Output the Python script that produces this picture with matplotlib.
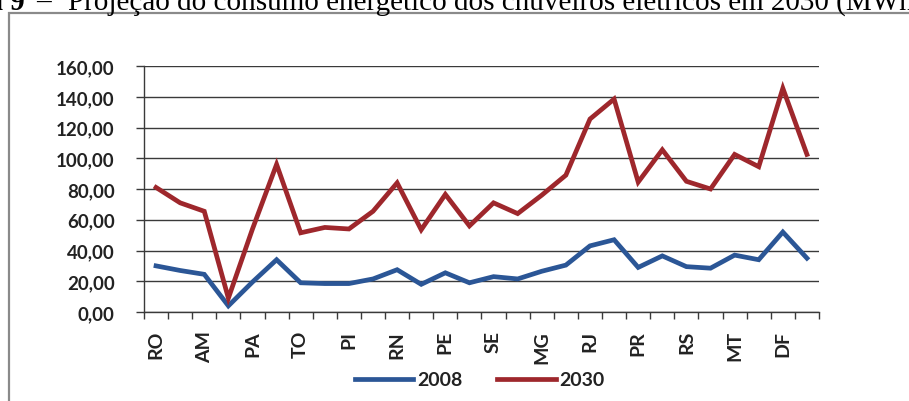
import numpy as np
import matplotlib
matplotlib.use('Agg')
from matplotlib import pyplot as plt
from matplotlib.patches import Rectangle

# states (IBGE order) + Brazil
states = ['RO', 'AC', 'AM', 'RR', 'PA', 'AP', 'TO', 'MA', 'PI', 'CE', 'RN', 'PB',
          'PE', 'AL', 'SE', 'BA', 'MG', 'ES', 'RJ', 'SP', 'PR', 'SC', 'RS', 'MS',
          'MT', 'GO', 'DF', 'BR']
v2008 = [30, 27, 24.5, 4, 19.5, 34, 19, 18.5, 18.5, 21.5, 27.5, 18, 25.5, 19,
         23, 21.5, 26.5, 30.5, 43, 47, 29, 36.5, 29.5, 28.5, 37, 34, 52, 35]
v2030 = [81, 71, 65.5, 9, 54, 96, 51.5, 55, 54, 65.5, 84, 53.5, 76.5, 56,
         71, 64, 76, 89, 125.5, 138.5, 84.5, 105.5, 85, 80, 102.5, 94.5, 145.5, 102.5]
yticks = [0, 20, 40, 60, 80, 100, 120, 140, 160]

W, H = 909, 402
fig = plt.figure(figsize=(W / 100, H / 100), dpi=100)
ax = fig.add_axes([144 / W, 1 - 313 / H, (819 - 144) / W, (313 - 67) / H])

x = np.arange(len(states)) + 0.5
ax.plot(x, v2008, color='#2b5696', lw=3.4, label='2008', solid_joinstyle='miter')
ax.plot(x, v2030, color='#9e272c', lw=3.4, label='2030', solid_joinstyle='miter')

ax.set_xlim(0, len(states))
ax.set_ylim(0, 160)
ax.set_yticks(yticks)
ax.set_yticklabels([f'{v:.2f}'.replace('.', ',') for v in yticks],
                   fontfamily='Lato', fontweight='bold', fontsize=13.5, color='#222222')
ax.yaxis.grid(True, color='#3a3a3a', lw=1.0)
ax.set_axisbelow(True)

ax.set_xticks(np.arange(len(states) + 1))
ax.set_xticklabels([])
ax.set_xticks(x[::2], minor=True)
ax.set_xticklabels(states[::2], minor=True, rotation=90, fontfamily='Lato',
                   fontweight='bold', fontsize=14, color='#222222')
ax.tick_params(axis='x', which='minor', length=0, pad=13)
ax.tick_params(axis='x', which='major', length=5, width=1.0, color='#3a3a3a')
ax.tick_params(axis='y', length=6, width=1.0, color='#3a3a3a', pad=15)

for s in ['top', 'right']:
    ax.spines[s].set_visible(False)
for s in ['left', 'bottom']:
    ax.spines[s].set_color('#3a3a3a')
    ax.spines[s].set_linewidth(1.0)

leg = fig.legend(loc='center', bbox_to_anchor=(480 / W, 1 - 381 / H), ncol=2,
                 frameon=False, handlelength=3.0, columnspacing=1.8, handletextpad=0.2,
                 prop={'family': 'Lato', 'weight': 'bold', 'size': 14})
for t in leg.get_texts():
    t.set_color('#222222')

# outer frame of the figure box
fig.add_artist(Rectangle((9 / W, -0.2), 1.2, 1.2 - 14 / H, transform=fig.transFigure,
                         fill=False, edgecolor='#8a8a8a', lw=1.6, clip_on=False))

# caption, cut off by the top of the image
ty = 1 - 10 / H
fig.text(25 / W, ty, 'Figura 9', ha='right', va='baseline', fontfamily='Liberation Serif',
         fontweight='bold', fontsize=21)
fig.text(36 / W, ty, '–', ha='left', va='baseline', fontfamily='Liberation Serif', fontsize=21)
fig.text(68 / W, ty, 'Projeção do consumo energético dos chuveiros elétricos em 2030 (MWh)',
         ha='left', va='baseline', fontfamily='Liberation Serif', fontsize=21)

fig.savefig('out.png', dpi=100)
